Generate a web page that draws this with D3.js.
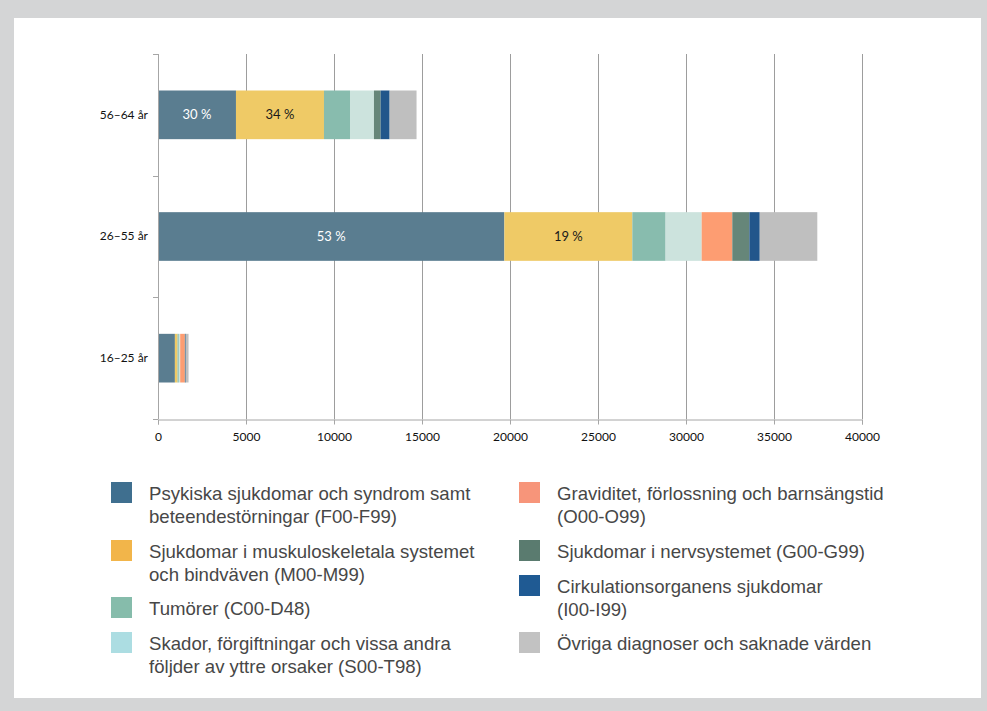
<!DOCTYPE html>
<html><head><meta charset="utf-8">
<script src="https://cdn.jsdelivr.net/npm/d3@7"></script>
<style>
html,body{margin:0;padding:0;background:#d4d5d6;}
svg{display:block;}
</style></head>
<body>
<svg id="c" width="987" height="711"></svg>
<script>
const categories = ["56–64 år", "26–55 år", "16–25 år"];
const seriesNames = [
  "Psykiska sjukdomar och syndrom samt beteendestörningar (F00-F99)",
  "Sjukdomar i muskuloskeletala systemet och bindväven (M00-M99)",
  "Tumörer (C00-D48)",
  "Skador, förgiftningar och vissa andra följder av yttre orsaker (S00-T98)",
  "Graviditet, förlossning och barnsängstid (O00-O99)",
  "Sjukdomar i nervsystemet (G00-G99)",
  "Cirkulationsorganens sjukdomar (I00-I99)",
  "Övriga diagnoser och saknade värden"
];
const legendLines = [
  ["Psykiska sjukdomar och syndrom samt", "beteendestörningar (F00-F99)"],
  ["Sjukdomar i muskuloskeletala systemet", "och bindväven (M00-M99)"],
  ["Tumörer (C00-D48)"],
  ["Skador, förgiftningar och vissa andra", "följder av yttre orsaker (S00-T98)"],
  ["Graviditet, förlossning och barnsängstid", "(O00-O99)"],
  ["Sjukdomar i nervsystemet (G00-G99)"],
  ["Cirkulationsorganens sjukdomar", "(I00-I99)"],
  ["Övriga diagnoser och saknade värden"]
];
// values per series, in category order [56–64, 26–55, 16–25]
const psykiska   = [4430, 19680, 960];
const muskulo    = [5000, 7270, 150];
const tumorer    = [1480, 1890, 75];
const skador     = [1360, 2050, 75];
const graviditet = [0, 1740, 265];
const nerv       = [380, 970, 30];
const cirkulation= [510, 590, 30];
const ovriga     = [1530, 3270, 150];
const barLabels = [["30 %", "34 %"], ["53 %", "19 %"], ["", ""]];
const xTicks = [0, 5000, 10000, 15000, 20000, 25000, 30000, 35000, 40000];

const series = [psykiska, muskulo, tumorer, skador, graviditet, nerv, cirkulation, ovriga];
const barColors = ["#5a7d90", "#efca66", "#88bcae", "#cce3dd", "#fd9d72", "#668679", "#22568b", "#bfbfbf"];
const legendColors = ["#3f6f8f", "#f2b54a", "#86bcab", "#acdde2", "#f7957a", "#5a7b6f", "#1f5a93", "#c2c2c2"];
const labelColors = ["#ffffff", "#1a1a1a"];

const svg = d3.select("#c");
svg.append("rect").attr("x", 14).attr("y", 18).attr("width", 967).attr("height", 680).attr("fill", "#ffffff");

const x = d3.scaleLinear().domain([0, 40000]).range([158, 862]);
const y = d3.scaleBand().domain(categories).range([54, 419]).paddingInner(0.6).paddingOuter(0.3);

// gridlines
svg.append("g").selectAll("line").data(xTicks.slice(1)).join("line")
  .attr("x1", d => x(d) + 0.5).attr("x2", d => x(d) + 0.5)
  .attr("y1", 54).attr("y2", 419).attr("stroke", "#9d9d9d").attr("stroke-width", 1);

// stacked bars
const rows = categories.map((c, i) => {
  const o = {cat: c};
  series.forEach((s, k) => o["s" + k] = s[i]);
  return o;
});
const keys = series.map((s, k) => "s" + k);
const stacked = d3.stack().keys(keys)(rows);
const gBars = svg.append("g");
stacked.forEach((layer, k) => {
  gBars.append("g").attr("fill", barColors[k]).selectAll("rect").data(layer).join("rect")
    .attr("x", d => x(d[0])).attr("width", d => Math.max(0, x(d[1]) - x(d[0])))
    .attr("y", d => y(d.data.cat)).attr("height", y.bandwidth());
});
// bar labels (first two series)
[0, 1].forEach(k => {
  gBars.append("g").selectAll("text").data(stacked[k]).join("text")
    .attr("x", d => (x(d[0]) + x(d[1])) / 2)
    .attr("y", d => y(d.data.cat) + y.bandwidth() / 2)
    .attr("dy", "0.35em").attr("text-anchor", "middle")
    .attr("font-family", "Lato, 'Open Sans', sans-serif").attr("font-size", 13)
    .attr("fill", labelColors[k])
    .text((d, i) => barLabels[i][k]);
});

// x axis
const xAxis = svg.append("g").attr("transform", "translate(0,419.5)")
  .call(d3.axisBottom(x).tickValues(xTicks).tickFormat(d3.format("d")).tickSize(5).tickPadding(8));
xAxis.select(".domain").attr("stroke", "#a6a6a6");
xAxis.selectAll(".tick line").attr("stroke", "#a6a6a6");
xAxis.selectAll("text").attr("font-family", "Lato, 'Open Sans', sans-serif").attr("font-size", 12).attr("fill", "#111");

// y axis line and boundary ticks
const yTickPos = [0, 1, 2, 3].map(i => 54 + i * (419 - 54) / 3);
svg.append("line").attr("x1", 158.5).attr("x2", 158.5).attr("y1", 54).attr("y2", 419)
  .attr("stroke", "#a6a6a6");
svg.append("g").selectAll("line").data(yTickPos).join("line")
  .attr("x1", 153).attr("x2", 158).attr("y1", d => Math.round(d) + 0.5).attr("y2", d => Math.round(d) + 0.5)
  .attr("stroke", "#a6a6a6");
const yAxis = svg.append("g").attr("transform", "translate(158,0)")
  .call(d3.axisLeft(y).tickSize(0).tickPadding(10));
yAxis.select(".domain").remove();
yAxis.selectAll("text").attr("font-family", "Lato, 'Open Sans', sans-serif").attr("font-size", 12).attr("fill", "#111");

// legend
const legendPos = [
  {x: 111, y: 482}, {x: 111, y: 540}, {x: 111, y: 597}, {x: 111, y: 632},
  {x: 519, y: 482}, {x: 519, y: 540}, {x: 519, y: 575}, {x: 519, y: 632}
];
const gL = svg.append("g");
legendPos.forEach((p, i) => {
  gL.append("rect").attr("x", p.x).attr("y", p.y).attr("width", 21).attr("height", 21).attr("fill", legendColors[i]);
  const t = gL.append("text").attr("x", p.x + 38).attr("y", p.y + 18)
    .attr("font-family", "'Liberation Sans', Arial, sans-serif").attr("font-size", 18.6).attr("fill", "#474747");
  legendLines[i].forEach((ln, j) => {
    t.append("tspan").attr("x", p.x + 38).attr("dy", j === 0 ? 0 : 23).text(ln);
  });
});
</script>
</body></html>
